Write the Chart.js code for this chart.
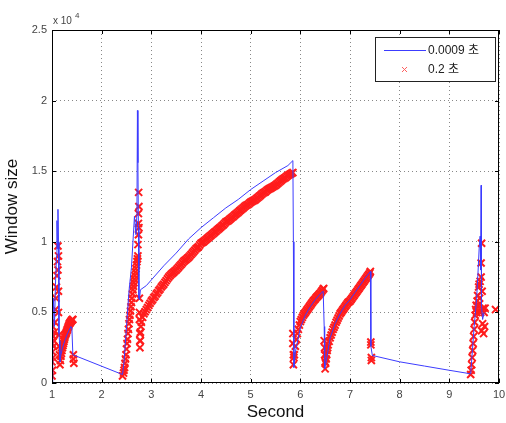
<!DOCTYPE html>
<html>
<head>
<meta charset="utf-8">
<script src="https://cdn.jsdelivr.net/npm/chart.js@4/dist/chart.umd.min.js"></script>
<style>
  body { margin: 0; background: #fff; }
</style>
</head>
<body>
<canvas id="windowChart" width="506" height="423"></canvas>
<script>
// ##################### DATA #######################
const seriesLabels = ['0.0009 초', '0.2 초']

// 0.0009 s run (solid line)
const blueX = [1.00, 1.01, 1.02, 1.03, 1.05, 1.07, 1.09, 1.10, 1.11, 1.12, 1.13, 1.14, 1.15, 1.16, 1.18, 1.22, 1.26, 1.30, 1.34, 1.38, 1.40, 1.42,
    2.42, 2.45, 2.50, 2.55, 2.60, 2.66, 2.69, 2.71, 2.72, 2.73, 2.74, 2.75, 2.76, 2.78, 2.90, 3.00, 3.25, 3.50, 3.75, 4.00, 4.25, 4.50, 4.75, 5.00, 5.25, 5.50, 5.75, 5.85,
    5.86, 5.87, 5.90, 6.00, 6.10, 6.20, 6.30, 6.40, 6.46, 6.48, 6.49, 6.52, 6.60, 6.70, 6.80, 6.90, 7.00, 7.10, 7.20, 7.30, 7.41, 7.42, 7.45,
    8.00, 8.50, 9.00, 9.43, 9.50, 9.55, 9.58, 9.60, 9.62, 9.63, 9.64, 9.645, 9.65, 9.67, 9.70]
const blueY = [0, 1500, 3500, 6000, 4000, 7000, 9000, 11500, 9500, 12300, 10000, 3500, 3000, 1500, 2000, 2600, 3000, 3400, 3700, 4000, 3900, 2000,
    600, 1500, 4000, 6500, 8200, 11800, 10500, 12000, 19300, 15600, 11000, 6000, 5900, 6600, 6900, 7300, 8300, 9200, 10200, 11000, 11700, 12400, 13000, 13700, 14300, 14900, 15400, 15750,
    10000, 1100, 2200, 3900, 4800, 5400, 5900, 6300, 6500, 4000, 1000, 1500, 3200, 4200, 4900, 5500, 5900, 6400, 6900, 7400, 7900, 2600, 1950,
    1500, 1200, 900, 650, 4000, 6000, 8000, 9500, 10400, 8000, 14000, 9000, 5500, 4500, 5000]

// 0.2 s run (x markers), one line per burst
const redX = [1.00, 1.00, 1.00, 1.00, 1.01, 1.01, 1.01, 1.02, 1.02, 1.03, 1.04, 1.05, 1.06, 1.07, 1.08, 1.09, 1.10, 1.11, 1.12, 1.12, 1.13, 1.13, 1.13, 1.14, 1.14, 1.15, 1.16, 1.17, 1.18, 1.19, 1.20, 1.21, 1.22, 1.23, 1.24, 1.25, 1.26, 1.27, 1.28, 1.29, 1.30, 1.31, 1.32, 1.33, 1.34, 1.35, 1.36, 1.37, 1.38, 1.39, 1.40, 1.41, 1.42, 1.43, 1.43, 1.44,
    2.42, 2.44, 2.45, 2.46, 2.47, 2.48, 2.49, 2.50, 2.51, 2.52, 2.53, 2.54, 2.55, 2.56, 2.57, 2.58, 2.59, 2.60, 2.61, 2.62, 2.63, 2.64, 2.65, 2.66, 2.67, 2.68, 2.69, 2.70, 2.71, 2.72, 2.73, 2.73, 2.74, 2.74, 2.74, 2.745, 2.75, 2.75, 2.76, 2.76, 2.76, 2.77, 2.77, 2.77, 2.78, 2.78, 2.79,
    2.800, 2.825, 2.850, 2.875, 2.900, 2.925, 2.950, 2.975, 3.000, 3.025, 3.050, 3.075, 3.100, 3.125, 3.150, 3.175, 3.200, 3.225, 3.250, 3.275, 3.300, 3.325, 3.350, 3.375, 3.400, 3.425, 3.450, 3.475,
    3.500, 3.525, 3.550, 3.575, 3.600, 3.625, 3.650, 3.675, 3.700, 3.725, 3.750, 3.775, 3.800, 3.825, 3.850, 3.875, 3.900, 3.925, 3.950, 3.975,
    4.000, 4.025, 4.050, 4.075, 4.100, 4.125, 4.150, 4.175, 4.200, 4.225, 4.250, 4.275, 4.300, 4.325, 4.350, 4.375, 4.400, 4.425, 4.450, 4.475,
    4.500, 4.525, 4.550, 4.575, 4.600, 4.625, 4.650, 4.675, 4.700, 4.725, 4.750, 4.775, 4.800, 4.825, 4.850, 4.875, 4.900, 4.925, 4.950, 4.975,
    5.000, 5.025, 5.050, 5.075, 5.100, 5.125, 5.150, 5.175, 5.200, 5.225, 5.250, 5.275, 5.300, 5.325, 5.350, 5.375, 5.400, 5.425, 5.450, 5.475,
    5.500, 5.525, 5.550, 5.575, 5.600, 5.625, 5.650, 5.675, 5.700, 5.725, 5.750, 5.775, 5.800, 5.825, 5.850,
    5.85, 5.85, 5.86, 5.86, 5.87, 5.88, 5.90, 5.92, 5.94, 5.96, 5.98, 6.00, 6.02, 6.04, 6.06, 6.08, 6.10, 6.12, 6.14, 6.16, 6.18, 6.20, 6.22, 6.24, 6.26, 6.28, 6.30, 6.32, 6.34, 6.36, 6.38, 6.40, 6.42, 6.44, 6.46, 6.47,
    6.48, 6.49, 6.49, 6.50, 6.50, 6.51, 6.52, 6.53, 6.54, 6.55, 6.56, 6.58, 6.60, 6.62, 6.64, 6.66, 6.68, 6.70, 6.72, 6.74, 6.76, 6.78, 6.80, 6.82, 6.84, 6.86, 6.88, 6.90, 6.92, 6.94, 6.96, 6.98,
    7.00, 7.02, 7.04, 7.06, 7.08, 7.10, 7.12, 7.14, 7.16, 7.18, 7.20, 7.22, 7.24, 7.26, 7.28, 7.30, 7.32, 7.34, 7.36, 7.38, 7.40, 7.41,
    7.42, 7.42, 7.43, 7.43,
    9.43, 9.44, 9.45, 9.46, 9.47, 9.48, 9.49, 9.50, 9.51, 9.52, 9.53, 9.54, 9.55, 9.56, 9.57, 9.58, 9.59, 9.60, 9.61, 9.62, 9.63, 9.64, 9.64, 9.65, 9.65, 9.66, 9.67, 9.68, 9.69, 9.70, 9.71, 9.72, 9.93]
const redY = [500, 1500, 2800, 3400, 900, 2200, 4000, 1800, 3300, 2600, 3000, 3600, 4300, 5200, 6000, 6800, 7600, 8600, 9700, 8000, 9000, 6500, 5000, 3400, 2600, 2000, 1300, 1600, 1900, 2100, 2300, 2500, 2650, 2800, 2950, 3100, 3250, 3400, 3500, 3600, 3700, 3800, 3900, 4000, 4100, 4200, 4250, 4300, 4350, 4400, 4450, 4500, 4500, 2000, 1700, 1400,
    500, 700, 900, 1100, 1400, 1700, 2000, 2400, 2800, 3100, 3500, 3800, 4200, 4500, 4800, 5100, 5400, 5700, 6000, 6300, 6600, 6850, 7100, 7350, 7600, 7850, 8100, 8350, 8600, 8800, 9000, 9800, 10500, 11300, 12000, 13500, 12500, 11000, 6000, 5000, 4500, 3500, 3000, 2500, 3000, 3600, 4000,
    4300, 4650, 4900, 5050, 5200, 5350, 5500, 5650, 5800, 5900, 6050, 6150, 6300, 6400, 6550, 6650, 6800, 6900, 7000, 7130, 7250, 7380, 7500, 7600, 7700, 7780, 7850, 7930,
    8000, 8100, 8200, 8300, 8400, 8500, 8600, 8680, 8750, 8830, 8900, 9000, 9100, 9200, 9300, 9400, 9500, 9580, 9650, 9780,
    9900, 9950, 10000, 10080, 10150, 10230, 10300, 10380, 10450, 10530, 10600, 10680, 10750, 10830, 10900, 10980, 11050, 11130, 11200, 11300,
    11400, 11450, 11500, 11580, 11650, 11730, 11800, 11880, 11950, 12030, 12100, 12180, 12250, 12330, 12400, 12480, 12550, 12600, 12650, 12730,
    12800, 12850, 12900, 12950, 13000, 13080, 13150, 13230, 13300, 13380, 13450, 13500, 13550, 13630, 13700, 13750, 13800, 13850, 13900, 13950,
    14000, 14080, 14150, 14230, 14300, 14380, 14450, 14500, 14550, 14630, 14700, 14750, 14800, 14850, 14900,
    3500, 2800, 2000, 1300, 1800, 2000, 2600, 3100, 3500, 3800, 4100, 4350, 4500, 4650, 4800, 4900, 5000, 5100, 5200, 5300, 5400, 5500, 5600, 5700, 5800, 5880, 5950, 6050, 6120, 6200, 6280, 6350, 6450, 6550, 6650, 6700,
    3000, 2500, 2000, 1500, 1000, 1400, 1700, 2000, 2300, 2500, 2700, 2950, 3200, 3400, 3600, 3800, 3950, 4100, 4300, 4450, 4600, 4750, 4900, 5000, 5100, 5200, 5300, 5400, 5500, 5600, 5700, 5750,
    5800, 5900, 6000, 6100, 6200, 6300, 6400, 6500, 6600, 6700, 6800, 6900, 7000, 7100, 7200, 7300, 7400, 7500, 7600, 7700, 7800, 7900,
    2900, 2700, 1800, 1600,
    600, 900, 1300, 1800, 2300, 2800, 3300, 3800, 4300, 4800, 5200, 5500, 5000, 5800, 6200, 5500, 6800, 7000, 6000, 7200, 5000, 7500, 8500, 9900, 3700, 6500, 4200, 5300, 3500, 5000, 4000, 5300, 5200]

const xTicksMin = 1
const xTicksMax = 10
const yTicksMax = 25000
const yScaleFactor = 10000

const blueColor = '#3c3cff'
const redColor = '#ff1c1c'

const bluePoints = blueX.map((x, i) => ({ x: x, y: blueY[i] }))
const redPoints = redX.map((x, i) => ({ x: x, y: redY[i] }))

// ##################### MATLAB-STYLE FRAME + LEGEND #######################
const framePlugin = {
    id: 'framePlugin',
    afterDraw(chart) {
        const ctx = chart.ctx
        const a = chart.chartArea
        const xs = chart.scales.x
        const ys = chart.scales.y
        ctx.save()
        ctx.setLineDash([])
        ctx.strokeStyle = '#000'
        ctx.lineWidth = 1
        ctx.strokeRect(a.left + 0.5, a.top + 0.5, a.right - a.left - 1, a.bottom - a.top - 1)

        // inner tick marks on all four sides
        ctx.beginPath()
        xs.ticks.forEach(t => {
            const px = Math.round(xs.getPixelForValue(t.value)) + 0.5
            ctx.moveTo(px, a.bottom); ctx.lineTo(px, a.bottom - 4)
            ctx.moveTo(px, a.top); ctx.lineTo(px, a.top + 4)
        })
        ys.ticks.forEach(t => {
            const py = Math.round(ys.getPixelForValue(t.value)) + 0.5
            ctx.moveTo(a.left, py); ctx.lineTo(a.left + 4, py)
            ctx.moveTo(a.right, py); ctx.lineTo(a.right - 4, py)
        })
        ctx.stroke()

        // exponent label
        ctx.fillStyle = '#444'
        ctx.font = '10px "Liberation Sans", Arial, sans-serif'
        ctx.textBaseline = 'alphabetic'
        ctx.textAlign = 'left'
        ctx.fillText('x 10', a.left + 1, a.top - 6)
        ctx.font = '8px "Liberation Sans", Arial, sans-serif'
        ctx.fillText('4', a.left + 23, a.top - 12)

        // legend box
        const lx = 375, ly = 37, lw = 120, lh = 44
        ctx.fillStyle = '#fff'
        ctx.fillRect(lx, ly, lw, lh)
        ctx.strokeStyle = '#222'
        ctx.strokeRect(lx + 0.5, ly + 0.5, lw, lh)
        ctx.font = '12px "Liberation Sans", "Noto Sans CJK KR", sans-serif'
        ctx.textBaseline = 'middle'
        ctx.fillStyle = '#222'
        ctx.strokeStyle = blueColor
        ctx.beginPath()
        ctx.moveTo(384, 50.5); ctx.lineTo(426, 50.5)
        ctx.stroke()
        ctx.fillText(seriesLabels[0], 428, 51)
        ctx.strokeStyle = '#ff6060'
        ctx.lineWidth = 1
        ctx.beginPath()
        ctx.moveTo(402, 67); ctx.lineTo(407, 72)
        ctx.moveTo(407, 67); ctx.lineTo(402, 72)
        ctx.stroke()
        ctx.fillText(seriesLabels[1], 428, 70)
        ctx.restore()
    }
}

// ##################### CHART #######################
const ctx = document.getElementById('windowChart');
const windowChart = new Chart(ctx, {
    type: 'scatter',
    data: {
        datasets: [{
            label: seriesLabels[0],
            data: bluePoints,
            showLine: true,
            borderColor: blueColor,
            borderWidth: 1,
            pointRadius: 0,
            tension: 0,
            order: 0,
        }, {
            label: seriesLabels[1],
            data: redPoints,
            showLine: false,
            borderColor: redColor,
            backgroundColor: redColor,
            pointStyle: 'crossRot',
            pointRadius: 5,
            borderWidth: 2,
            order: 1,
        }]
    },
    options: {
        responsive: false,
        animation: false,
        layout: {
            padding: { left: 0, right: 6, top: 30, bottom: 0 }
        },
        plugins: {
            legend: { display: false },
            tooltip: { enabled: false },
        },
        scales: {
            x: {
                type: 'linear',
                min: xTicksMin,
                max: xTicksMax,
                ticks: {
                    stepSize: 1,
                    padding: 5,
                    color: '#444',
                    font: { family: '"Liberation Sans", Arial, sans-serif', size: 11 },
                },
                grid: { color: '#888', drawTicks: false, lineWidth: 1 },
                border: { display: false, dash: [1, 3] },
                title: {
                    display: true,
                    text: 'Second',
                    color: '#111',
                    padding: { top: 0, bottom: 0 },
                    font: { family: '"Liberation Sans", Arial, sans-serif', size: 17 },
                },
                afterFit: s => { s.height = 40; s.paddingRight = 0; s.paddingLeft = 0 },
            },
            y: {
                min: 0,
                max: yTicksMax,
                ticks: {
                    stepSize: 5000,
                    padding: 5,
                    color: '#444',
                    font: { family: '"Liberation Sans", Arial, sans-serif', size: 11 },
                    callback: v => v / yScaleFactor,
                },
                grid: { color: '#888', drawTicks: false, lineWidth: 1 },
                border: { display: false, dash: [1, 3] },
                title: {
                    display: true,
                    text: 'Window size',
                    color: '#111',
                    padding: { top: 2, bottom: 0 },
                    font: { family: '"Liberation Sans", Arial, sans-serif', size: 17 },
                },
                afterFit: s => { s.width = 52 },
            },
        },
    },
    plugins: [framePlugin],
});
</script>
</body>
</html>
